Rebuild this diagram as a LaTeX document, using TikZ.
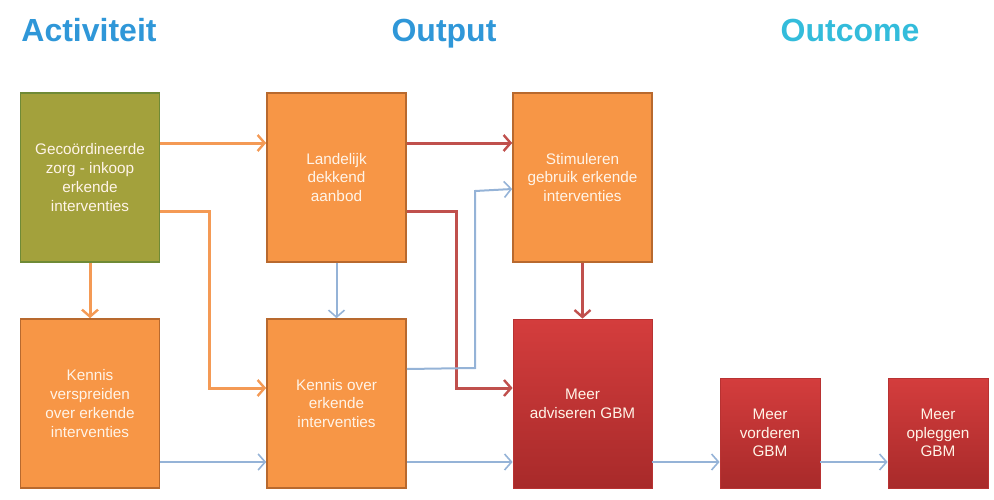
\documentclass[tikz,border=0pt]{standalone}
\usepackage{fontspec}
\setmainfont{Liberation Sans}
\usetikzlibrary{arrows.meta}
\definecolor{ofill}{HTML}{F79646}
\definecolor{oline}{HTML}{B8692E}
\definecolor{gfill}{HTML}{A3A13C}
\definecolor{gline}{HTML}{6F8A36}
\definecolor{rtop}{HTML}{D43D3D}
\definecolor{rbot}{HTML}{A82A2A}
\definecolor{rline}{HTML}{B83232}
\definecolor{aor}{HTML}{F49A55}
\definecolor{ard}{HTML}{C0504D}
\definecolor{abl}{HTML}{95B3D7}
\definecolor{tblue}{HTML}{2F97D8}
\definecolor{tcyan}{HTML}{33BCDB}
\definecolor{tcol}{HTML}{FFF4E8}
\tikzset{
  box/.style={rectangle, align=center, text=tcol, font=\fontsize{15.3}{18.8}\selectfont, line width=1.6pt, inner sep=0pt},
  obox/.style={box, fill=ofill, draw=oline, minimum width=139, minimum height=169},
  gbox/.style={box, fill=gfill, draw=gline, minimum width=139, minimum height=169},
  rbox/.style={box, top color=rtop, bottom color=rbot, draw=rline, line width=0.8pt},
  title/.style={font=\fontsize{32}{36}\selectfont\bfseries, anchor=base},
  conn/.style={-{Straight Barb[length=7pt,width=16pt,line width=2.4pt]}},
  orar/.style={conn, draw=aor, line width=3pt},
  rdar/.style={conn, draw=ard, line width=3pt},
  blar/.style={-{Straight Barb[length=7pt,width=16pt,line width=1.6pt]}, draw=abl, line width=2pt},
}
\begin{document}
\begin{tikzpicture}[x=1pt,y=-1pt]
\useasboundingbox (0,0) rectangle (994,499);
\node[title, text=tblue] (t1) at (89,41) {Activiteit};
\node[title, text=tblue] (t2) at (444,41) {Output};
\node[title, text=tcyan] (t3) at (850,41) {Outcome};

\node[gbox] (A) at (90,177.5) {Gecoördineerde\\zorg - inkoop\\erkende\\interventies};
\node[obox] (B) at (336.5,177.5) {Landelijk\\dekkend\\aanbod};
\node[obox] (C) at (582.5,177.5) {Stimuleren\\gebruik erkende\\interventies};
\node[obox] (D) at (90,403.5) {Kennis\\verspreiden\\over erkende\\interventies};
\node[obox] (E) at (336.5,403.5) {Kennis over\\erkende\\interventies};
\node[rbox, minimum width=139, minimum height=169] (F) at (582.5,403.5) {Meer\\adviseren GBM};
\node[rbox, minimum width=100, minimum height=110] (G) at (770,433) {Meer\\vorderen\\GBM};
\node[rbox, minimum width=100, minimum height=110] (H) at (938,433) {Meer\\opleggen\\GBM};

% orange
\draw[orar] (A.east |- 0,143) -- (B.west |- 0,143);
\draw[orar] (A.east |- 0,211) -| (209,388) -- (E.west |- 0,388);
\draw[orar] (A.south) -- (D.north);
% red
\draw[rdar] (B.east |- 0,143) -- (C.west |- 0,143);
\draw[rdar] (B.east |- 0,211) -| (456,388) -- (F.west |- 0,388);
\draw[rdar] (C.south) -- (F.north);
% blue
\draw[blar] (B.south) -- (E.north);
\draw[blar] (E.east |- 0,369) -- (475,368) -- (475,191) -- (C.west |- 0,189);
\draw[blar] (D.east |- 0,462) -- (E.west |- 0,462);
\draw[blar] (E.east |- 0,462) -- (F.west |- 0,462);
\draw[blar] (F.east |- 0,462) -- (G.west |- 0,462);
\draw[blar] (G.east |- 0,462) -- (H.west |- 0,462);
\end{tikzpicture}
\end{document}
